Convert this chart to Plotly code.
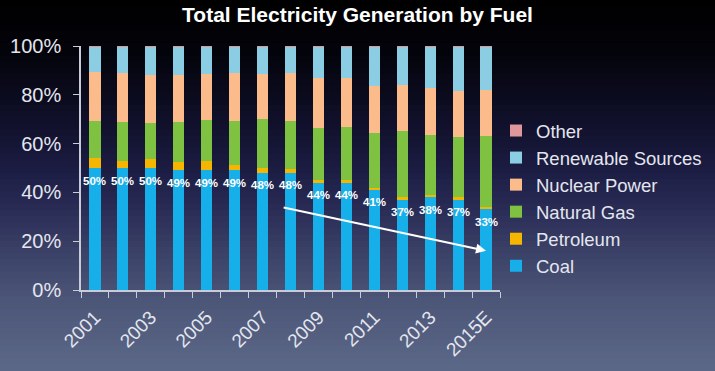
import plotly.graph_objects as go

years = ["2001", "2002", "2003", "2004", "2005", "2006", "2007", "2008",
         "2009", "2010", "2011", "2012", "2013", "2014", "2015E"]
coal = [50, 50, 50, 49, 49, 49, 48, 48, 44, 44, 41, 37, 38, 37, 33]
petroleum = [3.9, 3.0, 3.6, 3.4, 3.8, 2.1, 1.9, 1.4, 1.1, 1.0, 0.9, 1.2, 1.0, 1.0, 1.1]
natural_gas = [15.3, 15.8, 15.0, 16.4, 16.7, 18.3, 20.0, 19.8, 21.5, 21.8, 22.3, 27.1, 24.7, 24.6, 28.9]
nuclear = [20.2, 20.1, 19.7, 19.4, 19.2, 19.5, 18.7, 19.8, 20.4, 20.1, 19.4, 18.8, 18.9, 18.9, 18.9]
renewable = [10.4, 10.9, 11.5, 11.6, 11.1, 10.9, 11.2, 10.8, 12.8, 12.9, 16.2, 15.7, 17.2, 18.3, 17.9]
other = [0.2] * 15
tick_labels = [y if i % 2 == 0 else "" for i, y in enumerate(years)]
y_ticks = [0, 20, 40, 60, 80, 100]
y_tick_labels = ["0%", "20%", "40%", "60%", "80%", "100%"]
trend_start = (6.7, 33.9)
trend_end = (14, 16.1)

FONT = "Liberation Sans, Arial, sans-serif"
TXT = "#e4e6ee"

series = [
    ("Coal", coal, "#16afe9"),
    ("Petroleum", petroleum, "#f6b600"),
    ("Natural Gas", natural_gas, "#7fc241"),
    ("Nuclear Power", nuclear, "#fbbb8b"),
    ("Renewable Sources", renewable, "#8bcde2"),
    ("Other", other, "#e0979b"),
]

fig = go.Figure()
for name, vals, col in series:
    fig.add_trace(go.Bar(x=years, y=vals, name=name, marker=dict(color=col, line=dict(width=0)),
                         width=0.4, hoverinfo="x+y+name"))

# coal labels: category index positions on the category axis
annotations = [dict(x=i, y=v, xref="x", yref="y", text=f"<b>{v}%</b>", showarrow=False,
                    yanchor="middle", yshift=-12.5,
                    font=dict(color="white", size=11.5, family=FONT))
               for i, v in enumerate(coal)]
annotations.append(dict(x=trend_end[0], y=trend_end[1], ax=trend_start[0], ay=trend_start[1],
                        xref="x", yref="y", axref="x", ayref="y", showarrow=True,
                        arrowhead=2, arrowsize=1, arrowwidth=2, arrowcolor="white", text=""))

# background gradient (pixel-y colour stops)
stops = [(0, (0, 0, 0)), (50, (3, 3, 10)), (100, (12, 12, 32)), (150, (22, 22, 56)),
         (200, (38, 40, 82)), (250, (58, 64, 102)), (300, (76, 86, 120)), (371, (92, 104, 136))]
H, W, L, T, B = 371, 715, 81, 46, 290
def col_at(py):
    for (y0, c0), (y1, c1) in zip(stops[:-1], stops[1:]):
        if y0 <= py <= y1:
            f = (py - y0) / (y1 - y0)
            return "rgb(%d,%d,%d)" % tuple(round(a + (b - a) * f) for a, b in zip(c0, c1))
    return "rgb(%d,%d,%d)" % stops[-1][1]
shapes = []
n = 60
for i in range(n):
    py0 = H * i / n
    py1 = H * (i + 1) / n
    shapes.append(dict(type="rect", xref="paper", yref="paper", layer="below",
                       x0=(0 - L) / (500 - L) - 0.01, x1=(W - L) / (500 - L) + 0.01,
                       y0=(B - py1) / (B - T) - 0.002, y1=(B - py0) / (B - T) + 0.002,
                       fillcolor=col_at((py0 + py1) / 2), line=dict(width=0)))

fig.update_layout(
    width=715, height=371,
    margin=dict(l=81, r=215, t=46, b=81, autoexpand=False),
    barmode="stack",
    paper_bgcolor="rgb(92,104,136)",
    plot_bgcolor="rgba(0,0,0,0)",
    shapes=shapes,
    annotations=annotations,
    font=dict(family=FONT, color=TXT),
    title=dict(text="<b>Total Electricity Generation by Fuel</b>", x=0.5, xref="container",
               y=1 - 15 / 371, yanchor="middle", font=dict(size=21, color="white", family=FONT)),
    xaxis=dict(type="category", tickmode="array", tickvals=years, ticktext=tick_labels,
               tickson="boundaries", ticks="outside", ticklen=6, tickcolor="#c8ccd8",
               tickangle=-45, tickfont=dict(size=19, color=TXT), ticklabelstandoff=7,
               showline=True, linecolor="#c8ccd8", linewidth=1.5, showgrid=False,
               range=[-0.5, 14.5]),
    yaxis=dict(range=[0, 100], tickvals=y_ticks, ticktext=y_tick_labels,
               ticks="outside", ticklen=6, tickcolor="#c8ccd8", ticklabelstandoff=8,
               tickfont=dict(size=20, color=TXT),
               showline=True, linecolor="#c8ccd8", linewidth=1.5, showgrid=False, zeroline=False),
    legend=dict(traceorder="reversed", x=(496 - L) / (500 - L), xanchor="left",
                y=(B - 112) / (B - T), yanchor="top", font=dict(size=18.5, color=TXT),
                bgcolor="rgba(0,0,0,0)", tracegroupgap=0),
)

fig.write_html("out.html", config={"displayModeBar": False},
               post_script="document.body.style.margin='0';document.body.style.overflow='hidden';")
